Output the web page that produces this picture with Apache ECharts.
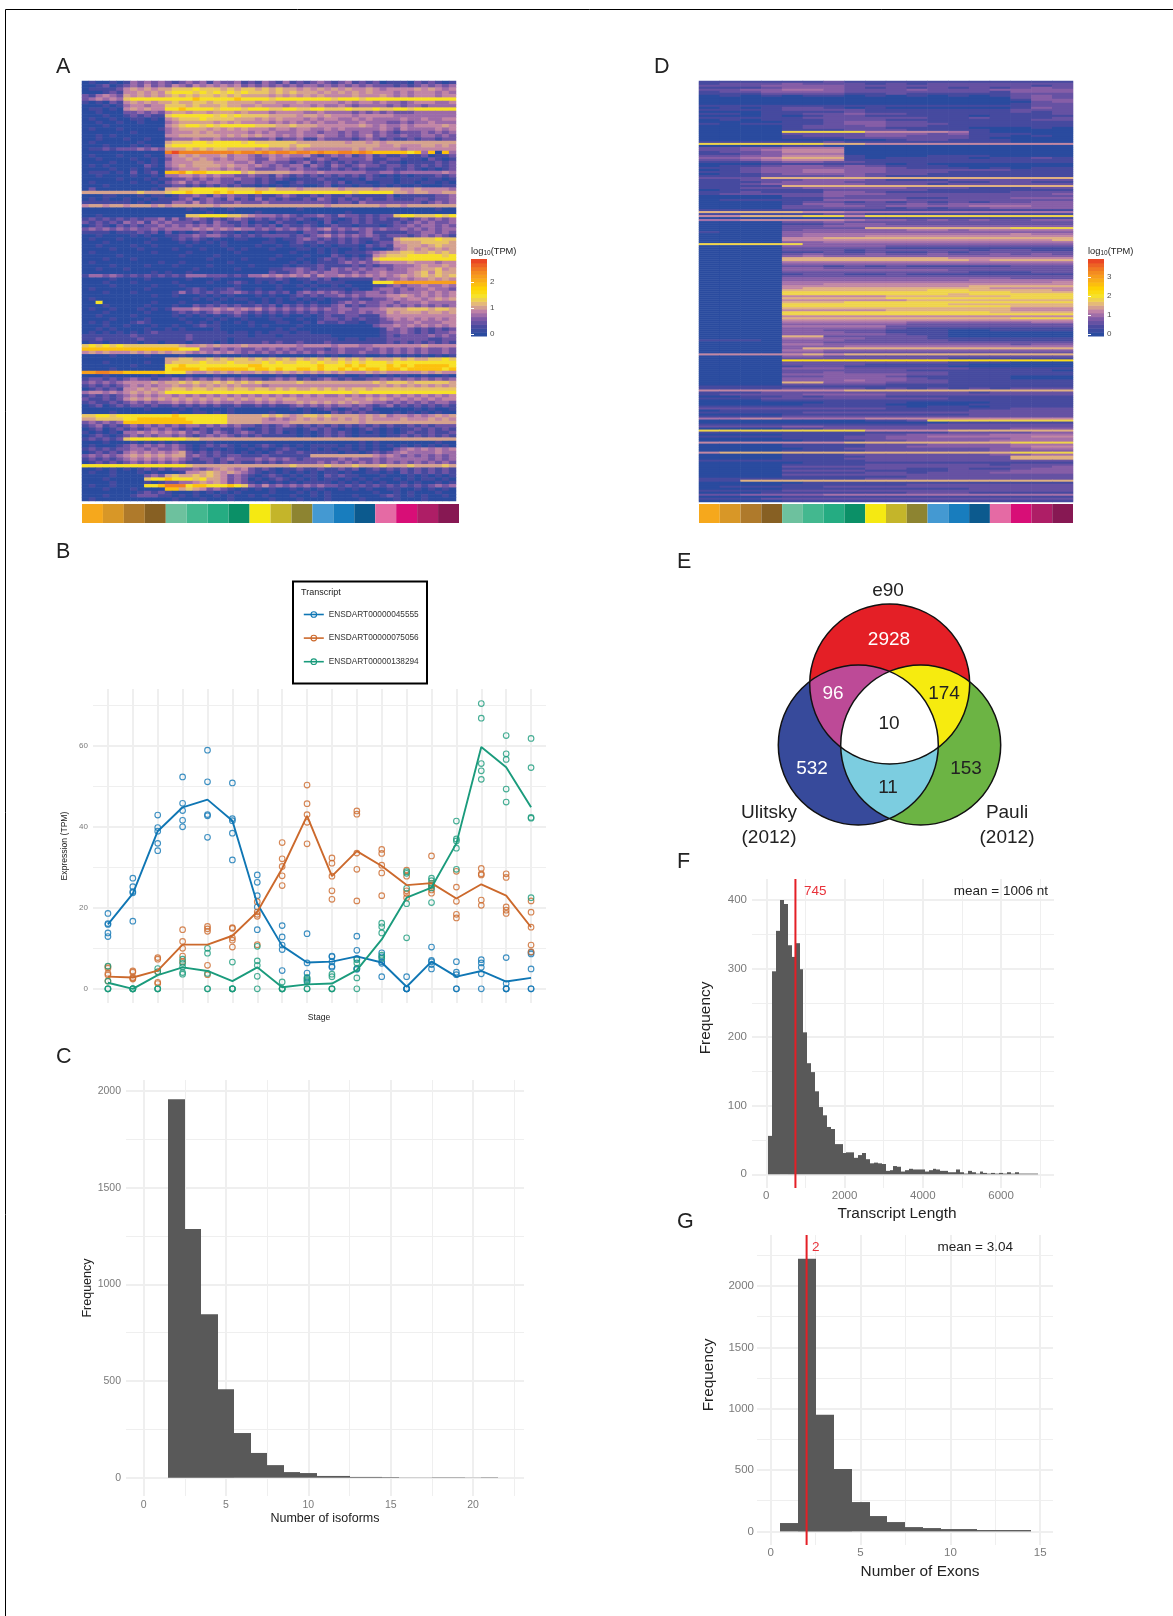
<!DOCTYPE html>
<html><head><meta charset="utf-8">
<style>html,body{margin:0;padding:0;background:#fff}#c{width:1173px;height:1616px}</style>
<script src="https://cdn.jsdelivr.net/npm/echarts@6/dist/echarts.min.js"></script>
</head><body><div id="c"></div>
<script>
// ---------- DATA ----------
const stageColors=['#F6A81C','#D89727','#AF7A2B','#876023','#6DC19E','#43B88F','#25AC82','#0B9067','#F5E912','#C4B52A','#8D8431','#4499D2','#187DBE','#0C5A8E','#E56AA4','#D80E77','#AE1E66','#871853'];
const stageFlags=[1,1,1,1,1,1,1,1,1,1,1,1,1,1,1,1,1,1];
const rampColors=['#2A4B9F','#4A4A9F','#7C58A6','#BC7EAA','#E3B57F','#F5E332','#FFD700','#FAB215','#F5941F','#EE6E25','#E83A24'];
const levelsA=[0,.25,.5,.72,.9,1.05,1.25,1.5,1.9,2.2,2.45,2.8];
const levelsD=[0,.35,.62,.85,1.05,1.25,1.55,1.85,2.2,2.88,3.3,3.85];
const heatA=[
"010010 132323 212323132231 213213121232 123121201110212101",
"001201 232423 243243434342 323232323323 232323222121232323",
"011112 454545 566676665656 656565545454 545445434444545434",
"000121 445454 677767676767 666565655545 454545444343444343",
"213432 545454 565656656565 555454545454 444544454343444344",
"234343 677777 777787777787 777677777777 677767777777777777",
"101021 454545 565566566555 545544454444 434344343323444334",
"000101 344344 666565556554 454443444343 343233332323323333",
"011010 454544 778777767776 777667766776 667666766776777777",
"001000 223232 455455455545 444344443343 333232323222333333",
"000100 121211 677777767676 666555545545 444344444333333333",
"010010 011010 456667666655 545454443434 433434333343343344",
"001001 001000 345555545454 444343434343 343343332232334333",
"000100 000000 456776767777 766655655544 444454343343444454",
"010001 000001 345555454545 444344344334 343333343243333434",
"000000 010000 344454544444 343433343323 323233232122232323",
"001010 000000 445555554545 454434343343 323234232232233232",
"001000 100100 233343343333 222312231132 222123212112122122",
"010000 001000 566677677776 766666655555 554554545555555555",
"000100 010100 677777777777 777666566555 555555544544455454",
"011212 223232 555656566555 545445454444 444545444434444444",
"000000 000000 abaaaaaaaa9a a9a9aa9aa9a9 9aa9a9888887838083",
"010001 000100 345454445344 323434334212 323123121121120112",
"001000 010010 244545434344 322433221232 122223112211102101",
"000010 001010 344455544433 423322123121 212122121101111212",
"010100 000210 345455554544 343232331321 321232212212121212",
"000010 010100 234445443434 322233232211 212121112112101012",
"011101 020120 889788777775 655555443343 333332233233333343",
"001000 010010 334434343322 322132121212 121212101010111212",
"000001 000101 122323232232 212121011121 101102111011101101",
"010000 010010 234232332212 212100121112 120110011011011010",
"000100 000001 122121212121 101010110012 011011010100100011",
"020000 000010 556677777666 655655545555 545555455544544443",
"555555 556555 677877787877 787777777777 777677777554554455",
"000110 001011 012232132322 121123211212 112111112011111223",
"010100 100101 112312321312 131212112132 121212112111221223",
"111111 101011 133242322232 223222222222 122132222222212323",
"455455 455545 455555545555 555555555554 555555545545555555",
"000000 000000 000101000100 000000010000 000000000000000100",
"000000 000000 000000100000 010000000000 001000000000000000",
"001000 000000 000667777665 433323212232 132212122677666767",
"121212 121223 131232121232 121212121012 101212121121232323",
"212121 323132 322212132112 011021101102 011212111212323223",
"012102 121223 232323232212 121202112101 211011101223233232",
"232323 232232 333343434343 323232323234 232323232232323233",
"111101 112120 201012121101 011011102212 121123111112233232",
"001000 010100 112232332121 212222121234 232323212221232321",
"010001 000010 012121010011 000101123212 121211211566666766",
"000100 000100 001010101000 001100121121 121210122455566665",
"001000 010010 000100001000 010010110101 011102121445545655",
"000010 001000 010001000101 000100011010 100101001345454545",
"010000 000010 000100000010 000000100010 101112345566556565",
"000001 000000 001000010000 000010001000 210101456667777767",
"000100 010000 000000100001 000100010012 121212677777777777",
"010000 000001 001000000100 000000101011 123232344445444344",
"000010 000100 010000100000 100001011121 111212122333454454",
"001000 100000 000010000010 000112232121 323232332334455645",
"000000 000010 100100000000 000211232323 322323343334564655",
"133232 121212 121333222121 334343434243 343434343454565656",
"000010 000100 000100010000 011121011212 011111323343445454",
"000100 010000 010000100121 010101001011 110000777999999999",
"000010 000010 001000000010 000010010100 101000112323343343",
"010000 000100 000121011210 010010001011 110100233232334332",
"000100 010000 013121212232 121212023232 321223323233343434",
"000000 000010 010001010100 010100121212 232323334454343434",
"010000 000000 000010101011 001010101010 111211223434434545",
"007000 000010 001000010000 101010010100 123232233233343333",
"000100 000100 010021212121 121202121211 231212232323232323",
"010010 001010 133343343434 342323232323 233233345556665665",
"000100 000100 012121232232 121212121212 232232335455545545",
"001000 010000 010101010121 010101001012 112211134444444444",
"000010 000100 001000101001 000110010012 212121123434343434",
"010100 012100 000101010010 100011001021 121101122333433344",
"000100 100010 010012110000 101000010000 000000233434343434",
"001010 000100 101000010000 000010100000 000000013232121212",
"010101 010121 111111111011 010111011000 000000012232121223",
"111111 121111 111211111111 011101111111 000000012122223232",
"112111 112111 111211111011 111111111111 101101112222221122",
"011011 110110 111011101011 112121121112 111111112121212121",
"676767 666666 665445454445 444444434444 344433444444454444",
"888888 888888 887773323232 232323232221 232223232323232232",
"454544 454545 455434343432 323232323232 232232232323232232",
"000010 000100 001000010001 000100000010 100110010101010101",
"000000 000000 556655656566 565656565656 565656555656556676",
"000100 000100 566667666766 667676677676 676767776777777777",
"000000 010000 778777777777 887777777787 778787778787888887",
"000010 000000 788887888888 788787788787 787878878878888878",
"99aa99 888888 777544545454 454545454545 454445454444454544",
"000100 000010 100100010001 000010100100 010010101010010010",
"122121 232212 232323232323 221232312123 212112232323232323",
"232323 444454 556565565656 565555565555 555555656665666665",
"121212 343434 454454545454 443444444444 444444454545454545",
"012121 445454 566566566566 566565655656 565665666666666666",
"344343 454545 777777777777 777777777777 777677777777777777",
"121212 343434 434343434343 434343434343 343434343434343434",
"211212 454545 454545454545 454545544444 445445454343434344",
"121121 232323 343434343343 343434454545 454544332323232332",
"012012 122121 121212121121 121211232323 233232123121212121",
"000000 000100 001010000100 000000101012 101212000000101001",
"000010 000000 010011010100 000100001000 212121100101010100",
"667767 777777 787777777555 556565456656 555545453443434545",
"556666 778888 888777777555 554343454545 454545444454445454",
"232323 888888 888877777555 554444555555 555545555555555555",
"123121 232323 232332323232 212123212121 212121212112121222",
"012012 121232 321212121121 012121101212 101012101011212121",
"101010 334343 434232132123 212120101012 121010101012112112",
"012101 232323 323212323212 121111101012 121011101121212121",
"121212 677777 777665555555 555555555555 555555555555555555",
"000100 010101 010000100000 000000000000 000010100000000100",
"010001 232323 232101212101 012101010111 101010101010101010",
"121212 233232 232101010100 101012100101 011010100234343434",
"012121 343434 345212121101 010121121111 101101212343333433",
"232323 454545 455232121221 112111111555 555555434323232323",
"121212 343434 343212212322 232323212222 232322323333332323",
"012121 232323 232111212121 121212222232 323232323232323232",
"777777 777777 777655555555 555555655556 555655565556555565",
"001010 101212 122232345434 212101121121 121201212121212121",
"010010 001010 001445654543 210101010101 101001101021212121",
"000010 000232 565565654232 101210101102 121100010001010101",
"000100 000677 877767554232 010121010101 101010100101011010",
"000010 000101 223345454232 101010101111 010101010010100101",
"010010 000778 aaa788777876 324232323232 212121212121212323",
"000100 010000 885654232101 010100101010 010101001100101010",
"000000 001212 100010101010 000100010101 000000100101000100",
"000100 012221 101010010100 101000100101 000100012101010010",
"010000 000000 010001000100 000100010001 000010000100010000"];
const heatD=[
"111111211111111111","122232221212222222","222333322222222212","111233321212121232","223344322232223333","122333322222221333","111222211211111222","010101101010101232",
"000000000000000232","000000000000000133","000000000000000023","000000000000000122","111111111111111122","010122101000000132","111122221111111222","000111121111111212",
"110112232211111112","000101221111101111","111112222221121112","010111222111111122","000011233221111111","101111233222111111","000012223221111111","000012222111100010",
"000011122211110000","000077775555410000","000022223332311100","000012223322211010","000011122222210000","000000000122111000","111111211111111000","777777665555555555",
"000011000000000000","223344400000000000","223455500000000000","122355500000000000","112344400000000000","223355510001110000","334566610111101121","223455511111111111",
"111233221111111111","000111111010000000","011233232111000000","112333333211101011","012334433222222111","112334433222111111","011233332221111111","111222232111111111",
"222666666666666666","112223332111222222","111233322222112211","112333332221222222","111166666666666666","112223333322211122","011111222221111111","112111332111111222",
"122222333222222223","000022322222222222","000011222211222333","011111333322222222","000012212121212233","000013322232333333","000022332333344433","000022222121223333",
"111111111111111111","666665544444444444","111111221111111111","556667757777777777","000000011111111111","445555543323232233","000022322222222222","000011233222222222",
"000022333333333333","000022226666666777","000023333344344444","100033333333333333","000034444444444544","000034445555555555","000055666666666666","000055555555555556",
"000033444444444444","777773333333333333","000033333222222222","000022222111111111","000022212222212211","000011212112122222","000023223223223232","000034333333333333",
"000066666666555555","000066666666656666","000044444444444444","000033333333333333","000022121211111222","000033222222222222","000033333333222222","000022222222211122",
"000012211211111111","000022222222222222","000033333333333222","000033333333344444","000044444444444445","000044555555555555","000055555555566666","000056666666665555",
"000066666667766665","000077777777777666","000077777777677777","000055555666666777","000066666777777777","000055555566666666","000066677777777777","000077777777666666",
"000077777777777666","000066666666666555","000055555666666555","000077777777776666","000077777777777777","000055555555555555","000066666666666777","000055555555555555",
"000044444433333344","000033333322222222","000044444222222222","000033333211111111","000033222111001111","000033322111000000","000033333211000000","000066222221000000",
"000044332221111111","111033322222111111","000033222222222222","000044333333333233","000033344444444444","000036666666666666","000044333333333333","000033222222222222",
"555556566666666666","000033222222222222","000022222222111111","000088888888888888","000022222222111000","000022221111100000","000012211111000000","000033322222211111",
"000022222211111110","000022322222111111","000033333322111111","000022333211111000","000033333321111000","000033343322111111","000066333222111111","000022222111111111",
"111111111111111111","111122221212121222","555555566666666666","111222222222212222","122223333222222222","001121222111111111","111222222222111111","000111111111111111",
"000000111100001111","000001111000011111","111111111101101111","222222222111111222","011111111111122222","111112222222222222","000011111111122222","111122222222222222",
"445544445555555555","000000001127777777","000000000000111111","111111111112222222","222233222222222222","000011222222222333","777777775555666666","111111111111222233",
"000011112233334444","111111122334444455","000011122333333444","000001112233334444","555555566666666777","000011112223333444","000011112233333455","000001122222223344",
"000011112222223333","566666666666666777","000011122222223344","000011112222222666","000011122222222666","111111112222222222","000001111111111111","000011112222221222",
"000022222222222223","000011112211211233","000022221111222333","000011112212223333","000022222222222222","000011111122222222","111111112222222222","116666666666666666",
"000001111111111111","000011111122222222","011111222222222222","000011111111122222","111122222222222222","000111111122211111","223333444444444444","000011111111111111",
"111222222222222222","000011111111111111"];
const stages=[1,2,3,4,5,6,7,8,9,10,11,12,13,14,15,16,17,18];
const transcripts=['ENSDART00000045555','ENSDART00000075056','ENSDART00000138294'];
const meanBlue=[15.9,23.5,38.9,44.8,46.7,41.5,21,10.6,6.5,6.7,8,6.5,.5,6.7,3,4.4,1.8,2.7];
const meanOrange=[3,2.8,4.5,10.9,10.9,13.1,19,29.7,42.7,27.8,34,30.3,25.6,26.1,22.3,25.8,23,15.2];
const meanGreen=[1.5,0,3.4,5.3,4.4,1.9,5.3,.4,1.1,1.3,4.6,12.2,22.5,25,35.9,59.7,54.7,44.8];
const repBlue=[[18.6,16.1,15.9,13.8,12.9],[27.3,25.2,24,23.7,16.7],[42.9,39.8,38.9,35.9,34.1],[52.3,45.8,44,41.6,40],[58.9,51.1,43,42.7,37.4],[50.8,42,41.5,38.4,31.8],[28.1,26.3,23,20.2,14.6],[15.6,12.8,10.8,9.7,4.5],[13.6,6.4,3.9,2.6,1.7],[8.1,7.9,6.7,5.6,5.3],[13,9.5,7.5,5,4.8],[8.9,7.9,6.7,6.3,3],[3,0,0,0,0],[10.3,7,6.7,6,4.9],[6.7,4.1,3.5,0,0],[7.2,6.4,5.3,3.7,0],[7.7,1.3,0,0,0],[9,8.6,4.9,0,0]];
const repOrange=[[5.5,5.1,3.8,3.4,1.9],[4.4,4.1,2.8,2.6,2.4],[7.7,7.3,4.2,1.6,1.3],[14.6,11.7,10,8.1,6.7],[15.4,14.8,14.2,5.8,3.5],[15.1,14.9,12.6,12,10.3],[21.5,19,18.4,17.9,10.9],[36.1,32.1,30.2,27.9,25.5],[50.3,45.7,43,41.1,35.8],[32.3,31,27.8,24.2,22.1],[43.9,43.1,33.5,29.5,21.7],[34.4,33.4,30.5,28.6,23],[29.3,27.8,24.2,23.5,22.5],[32.8,26,25.3,24.4,23.6],[29,25.1,21.6,18.4,17.5],[29.7,28.4,28.1,21.9,20.6],[28.4,27.5,20.2,19.4,18.6],[21.7,18.9,15.2,10.8,9.1]];
const repGreen=[[5.6,1.9,0,0,0],[0,0,0,0,0],[5,4.2,0,0,0],[7.3,6.3,5.4,4,3.6],[10,8.8,3.8,0,0],[6.6,0,0,0,0],[10.5,6.9,5.8,3.1,0],[1.7,0,0,0,0],[2.8,2.3,2,0,0],[3.6,3,0,0,0],[7.2,6.4,5,2.7,0],[16.2,15.3,13.8,8.3,7.5],[28.9,28.5,24.8,21,12.6],[27.3,26.7,25.6,24.9,21.3],[41.4,37,36.5,34.7,29.5],[70.4,66.8,55.6,53.8,51.7],[62.5,58,56.6,49.3,46.1],[61.8,54.6,42.3,42.1,22.5]];
const isoBins=[2,3,4,5,6,7,8,9,10,11,12,13,14,15,16,17,18,19,20,21];
const isoCounts=[1958,1286,846,458,231,128,65,29,24,9,9,4,4,3,1,1,2,2,1,2];
const lenBins=[100,200,300,400,500,600,700,800,900,1000,1100,1200,1300,1400,1500,1600,1700,1800,1900,2000,2100,2200,2300,2400,2500,2600,2700,2800,2900,3000,3100,3200,3300,3400,3500,3600,3700,3800,3900,4000,4100,4200,4300,4400,4500,4600,4700,4800,4900,5000,5100,5200,5300,5400,5500,5600,5700,5800,5900,6000,6100,6200,6300,6400,6500,6600,6700,6800,6900];
const lenCounts=[56,296,355,400,394,334,317,337,299,207,162,149,121,98,86,69,66,44,44,31,32,32,24,28,31,22,16,17,16,15,5,6,12,11,4,6,8,7,7,7,4,6,8,7,5,5,3,3,7,3,1,5,3,1,4,2,1,2,1,2,1,3,1,3,1,1,1,1,1];
const exonBins=[1,2,3,4,5,6,7,8,9,10,11,12,13,14];
const exonCounts=[68,2223,950,509,239,125,76,35,27,19,19,11,11,11];
const medianLen=745, medianExons=2;
const vennCounts={red:'2928',magenta:'96',yellow:'174',white:'10',blue:'532',green:'153',cyan:'11'};

// ---------- BUILD ----------
const FF='"Liberation Sans",Arial,sans-serif';
const GRID='#EFEFEF', TICK='#7A7A7A', DARK='#222222';
const grids=[],xAxes=[],yAxes=[],series=[],visualMaps=[],graphics=[];
function txt(x,y,s,size,color,align,rot){graphics.push({type:'text',x,y,rotation:rot||0,z:200,silent:true,
  style:{text:s,fill:color||DARK,font:size+'px '+FF,align:align||'center',verticalAlign:'middle',textAlign:align||'center',textVerticalAlign:'middle'}});}
function ax(g,r,vals,labels,width,fs,margin){return {gridIndex:g,type:'value',min:r[0],max:r[1],axisLine:{show:false},
  axisTick:{show:false,customValues:vals},
  axisLabel:{show:labels,customValues:vals,formatter:v=>String(v),color:TICK,fontSize:fs,fontFamily:FF,margin,showMinLabel:true,showMaxLabel:true},
  splitLine:{show:true,lineStyle:{color:GRID,width}},minorTick:{show:false},minorSplitLine:{show:false}};}
function plot(b,xr,yr,xMaj,xMin,yMaj,yMin,fs,wMaj,xm,ym){
  const g=grids.length;grids.push({left:b[0],top:b[1],width:b[2]-b[0],height:b[3]-b[1],containLabel:false});
  const xi=xAxes.length,yi=yAxes.length;
  xAxes.push(ax(g,xr,xMaj,true,wMaj,fs,xm));
  if(xMin.length)xAxes.push(ax(g,xr,xMin,false,1.1,fs,xm));
  yAxes.push(ax(g,yr,yMaj,true,wMaj,fs,ym));
  if(yMin.length)yAxes.push(ax(g,yr,yMin,false,1.1,fs,ym));
  return {xAxisIndex:xi,yAxisIndex:yi};
}
function hist(ref,bins,counts,w){
  series.push(Object.assign({type:'custom',z:3,clip:true,silent:true,encode:{x:0,y:1},data:bins.map((b,i)=>[b,counts[i]]),
   renderItem:(p,api)=>{const a=api.coord([api.value(0)-w/2,api.value(1)]),c=api.coord([api.value(0)+w/2,0]);
     const x0=Math.round(a[0]),x1=Math.round(c[0]);
     return {type:'rect',shape:{x:x0,y:a[1],width:x1-x0,height:c[1]-a[1]},style:{fill:'#595959'}};}},ref));
}
function vline(ref,x,yr){series.push(Object.assign({type:'line',z:5,silent:true,symbol:'none',data:[[x,yr[0]],[x,yr[1]]],lineStyle:{color:'#E41F26',width:2}},ref));}

function heat(box,rows,levels,nCols,max,legendBox,ticks,lo){
  const g=grids.length;grids.push({left:box[0],top:box[1],width:box[2]-box[0],height:box[3]-box[1]});
  const xi=xAxes.length,yi=yAxes.length;
  xAxes.push({gridIndex:g,type:'category',show:false,data:[...Array(nCols).keys()]});
  yAxes.push({gridIndex:g,type:'category',show:false,inverse:true,data:rows.map((_,i)=>i)});
  const data=[];
  rows.forEach((r,ri)=>{const s=r.replace(/ /g,'');for(let c=0;c<nCols;c++){const ch=s[Math.min(c,s.length-1)];data.push([c,ri,levels[parseInt(ch,16)]]);}});
  const si=series.length;
  series.push({type:'heatmap',xAxisIndex:xi,yAxisIndex:yi,data,progressive:0,silent:true,emphasis:{disabled:true}});
  // colour bar
  const lg=grids.length;grids.push({left:legendBox[0],top:legendBox[1],width:legendBox[2]-legendBox[0],height:legendBox[3]-legendBox[1]});
  const lx=xAxes.length,ly=yAxes.length;
  xAxes.push({gridIndex:lg,type:'value',show:false,min:0,max:1});
  const mk=(pos,lab)=>({gridIndex:lg,type:'value',position:pos,min:lo,max,z:6,axisLine:{show:false},splitLine:{show:false},
    axisTick:{show:true,inside:true,length:3,customValues:ticks,lineStyle:{color:'#fff',width:1}},
    axisLabel:{show:lab,customValues:ticks,color:'#4D4D4D',fontSize:8,fontFamily:FF,margin:3}});
  yAxes.push(mk('right',true),mk('left',false));
  const nb=20,bands=[];for(let i=0;i<nb;i++){const a=lo+(max-lo)*i/nb,b=lo+(max-lo)*(i+1)/nb;bands.push([a,b,(a+b)/2]);}
  const sl=series.length;
  series.push({type:'custom',xAxisIndex:lx,yAxisIndex:ly,silent:true,z:2,encode:{y:0},dimensions:['a','b','v'],data:bands,
    renderItem:(p,api)=>{const a=api.coord([0,api.value(0)]),b=api.coord([1,api.value(1)]);
      return {type:'rect',shape:{x:a[0],y:b[1],width:b[0]-a[0],height:a[1]-b[1]+.5},style:{fill:api.visual('color')}};}});
  visualMaps.push({type:'continuous',show:false,seriesIndex:[si,sl],dimension:2,min:0,max,inRange:{color:rampColors}});
}
function stageBar(x0,x1){
  const g=grids.length;grids.push({left:x0,top:504,width:x1-x0,height:19});
  const xi=xAxes.length,yi=yAxes.length;
  xAxes.push({gridIndex:g,type:'category',show:false,data:stages});
  yAxes.push({gridIndex:g,type:'value',show:false,min:0,max:1});
  series.push({type:'bar',xAxisIndex:xi,yAxisIndex:yi,barWidth:'100%',silent:true,data:stageFlags.map((v,i)=>({value:v,itemStyle:{color:stageColors[i]}}))});
}
// A, D
heat([82,81,456,501],heatA,levelsA,54,2.88,[471,259,487,336],[0,1,2],-0.08);
stageBar(82,459);
heat([699,81,1073,502],heatD,levelsD,18,3.95,[1088,259,1104,336],[0,1,2,3],-0.1);
stageBar(699,1073);
[[471,'A'],[1088,'D']].forEach(([x])=>graphics.push({type:'text',x,y:251,z:200,silent:true,style:{
  text:'{a|log}{s|10}{a|(TPM)}',fill:DARK,verticalAlign:'middle',textVerticalAlign:'middle',font:'9.3px '+FF,
  rich:{a:{fontSize:9.3,fontFamily:FF,fill:DARK,color:DARK},s:{fontSize:6.5,fontFamily:FF,fill:DARK,color:DARK,padding:[4,0,0,0]}}}}));

// B
const bRef=plot([93,689,546,1003],[.4,18.6],[-3.5,74],stages,[],[0,20,40,60],[10,30,50,70],8,1.9,0,5);
xAxes[bRef.xAxisIndex].axisLabel.show=false;
const bCols=['#0F76B4','#CC692C','#1A9B7C'];
[meanBlue,meanOrange,meanGreen].forEach((m,i)=>series.push(Object.assign({type:'line',name:transcripts[i],z:4,silent:true,symbol:'circle',symbolSize:0,showSymbol:false,
  data:m.map((v,k)=>[stages[k],v]),itemStyle:{color:bCols[i]},lineStyle:{color:bCols[i],width:1.9}},bRef)));
[repBlue,repOrange,repGreen].forEach((rep,i)=>series.push(Object.assign({type:'scatter',name:transcripts[i]+' reps',z:3,silent:true,symbol:'circle',symbolSize:5.6,
  data:rep.flatMap((a,k)=>a.map(v=>[stages[k],v])),itemStyle:{color:'rgba(255,255,255,0)',borderColor:bCols[i],borderWidth:1.15}},bRef)));
graphics.push({type:'rect',z:150,silent:true,shape:{x:293,y:581.5,width:134,height:102},style:{fill:'#fff',stroke:'#000',lineWidth:2}});
txt(301,593,'Transcript',9,DARK,'left');
txt(319,1018,'Stage',8.6,DARK);
txt(64.5,846,'Expression (TPM)',8.6,DARK,'center',Math.PI/2);

// C
const cRef=plot([126,1080,524,1496],[-1.07,23.09],[-94.7,2057],[0,5,10,15,20],[2.5,7.5,12.5,17.5,22.5],[0,500,1000,1500,2000],[250,750,1250,1750],10.5,1.9,4,5);
hist(cRef,isoBins,isoCounts,1);
txt(325,1519,'Number of isoforms',12.5);
txt(88,1288,'Frequency',12.5,DARK,'center',Math.PI/2);

// F
const fRef=plot([752,879,1054,1188],[-365,7353],[-20,430.6],[0,2000,4000,6000],[1000,3000,5000,7000],[0,100,200,300,400],[50,150,250,350],11.5,1.9,2,5);
hist(fRef,lenBins,lenCounts,100);
vline(fRef,medianLen,[-20,430.6]);
txt(804,891.5,String(medianLen),13.5,'#E8323A','left');
txt(1048,891.5,'mean = 1006 nt',13.5,DARK,'right');
txt(897,1214,'Transcript Length',15.4);
txt(706,1018,'Frequency',15.4,DARK,'center',Math.PI/2);

// G
const gRef=plot([757,1235,1053,1545],[-.76,15.71],[-111,2416],[0,5,10,15],[2.5,7.5,12.5],[0,500,1000,1500,2000],[250,750,1250,1750,2250],11.5,1.9,2,3);
hist(gRef,exonBins,exonCounts,1);
vline(gRef,medianExons,[-111,2416]);
txt(812,1247.5,String(medianExons),13.5,'#E8323A','left');
txt(1013,1247.5,'mean = 3.04',13.5,DARK,'right');
txt(920,1572,'Number of Exons',15.4);
txt(709,1375,'Frequency',15.4,DARK,'center',Math.PI/2);

// E: Venn
const vr=80,cE=[889.7,684],cU=[858.3,745],cP=[920.7,745];
function isect(a,b){const dx=b[0]-a[0],dy=b[1]-a[1],d=Math.hypot(dx,dy),h=Math.sqrt(vr*vr-d*d/4),mx=(a[0]+b[0])/2,my=(a[1]+b[1])/2;
  return [[mx-dy/d*h,my+dx/d*h],[mx+dy/d*h,my-dx/d*h]];}
const arc=p=>`A${vr} ${vr} 0 0 1 ${p[0]} ${p[1]}`;
const lens=(a,b)=>{const [p,q]=isect(a,b);return `M${p[0]} ${p[1]}${arc(q)}${arc(p)}Z`;};
const low=(a,b)=>isect(a,b).sort((m,n)=>n[1]-m[1])[0], high=(a,b)=>isect(a,b).sort((m,n)=>m[1]-n[1])[0];
const T=high(cU,cP),R=low(cE,cU),L=low(cE,cP);
series.push({type:'custom',coordinateSystem:'none',silent:true,z:3,data:[Object.values(vennCounts).length],renderItem:()=>{
  const circ=(c,fill,stroke)=>({type:'circle',shape:{cx:c[0],cy:c[1],r:vr},style:{fill,stroke:stroke||null,lineWidth:1.5}});
  const path=(d,fill)=>({type:'path',shape:{pathData:d},style:{fill}});
  return {type:'group',children:[circ(cE,'#E41F26'),circ(cU,'#374A9B'),circ(cP,'#6CB444'),
    path(lens(cE,cU),'#BD4A97'),path(lens(cE,cP),'#F6EB0F'),path(lens(cU,cP),'#7CCDE0'),
    path(`M${T[0]} ${T[1]}${arc(R)}${arc(L)}${arc(T)}Z`,'#FFFFFF'),
    circ(cE,'rgba(0,0,0,0)','#111'),circ(cU,'rgba(0,0,0,0)','#111'),circ(cP,'rgba(0,0,0,0)','#111')]};
}});
txt(889,640,vennCounts.red,19,'#fff');txt(833,694,vennCounts.magenta,19,'#fff');txt(944,694,vennCounts.yellow,19);
txt(889,723.5,vennCounts.white,19);txt(812,768.5,vennCounts.blue,19,'#fff');txt(966,768.5,vennCounts.green,19);txt(888,787.5,vennCounts.cyan,19);
txt(888,590.5,'e90',19);txt(769,813,'Ulitsky',19);txt(769,837.5,'(2012)',19);txt(1007,813,'Pauli',19);txt(1007,837.5,'(2012)',19);

// panel letters + frame
[['A',56,67],['D',654,67],['B',56,552],['C',56,1057],['E',677,562],['F',677,862],['G',677,1222]].forEach(l=>txt(l[1],l[2],l[0],21.5,DARK,'left'));
graphics.push({type:'line',z:200,silent:true,shape:{x1:5.5,y1:9.5,x2:1173,y2:9.5},style:{stroke:'#000',lineWidth:1}});
graphics.push({type:'line',z:200,silent:true,shape:{x1:5.5,y1:9.5,x2:5.5,y2:1616},style:{stroke:'#000',lineWidth:1}});

const chart=echarts.init(document.getElementById('c'),null,{renderer:'canvas',width:1173,height:1616});
chart.setOption({animation:false,backgroundColor:'#fff',textStyle:{fontFamily:FF},tooltip:{show:false},
  grid:grids,xAxis:xAxes,yAxis:yAxes,visualMap:visualMaps,series,graphic:{elements:graphics},
  legend:{show:true,left:303,top:610.5,orient:'vertical',z:180,itemWidth:20,itemHeight:7,itemGap:15.6,padding:0,selectedMode:false,
    data:transcripts.map((name,i)=>({name,itemStyle:{color:'rgba(255,255,255,0)',borderColor:bCols[i],borderWidth:1.1},lineStyle:{color:bCols[i],width:1.6}})),
    textStyle:{fontSize:8.27,fontFamily:FF,color:'#333'}}});
</script></body></html>
